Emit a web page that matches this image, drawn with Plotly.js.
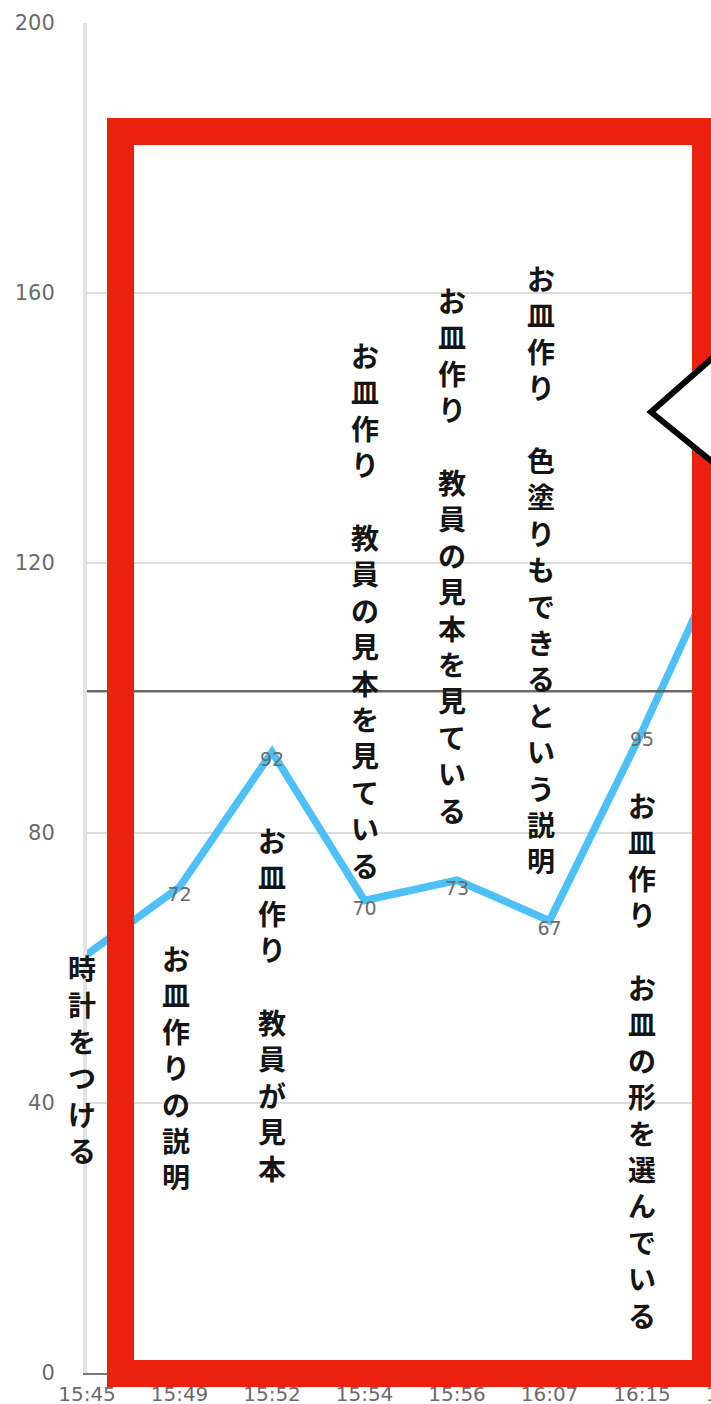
<!DOCTYPE html>
<html>
<head>
<meta charset="utf-8">
<script src="https://cdn.plot.ly/plotly-3.0.1.min.js"></script>
<style>
html,body{margin:0;padding:0;overflow:hidden;background:#fff;}
#chart{position:absolute;left:0;top:0;width:800px;height:1404px;}
</style>
</head>
<body>
<div id="chart"></div>
<script>
// ---- data ----
const times = ['15:45','15:49','15:52','15:54','15:56','16:07','16:15','16:18'];
const values = [62, 72, 92, 70, 73, 67, 95, 125];
const valueLabels = ['', '72', '92', '70', '73', '67', '95', ''];
const notes = [
  '時計をつける',
  'お皿作りの説明',
  'お皿作り　教員が見本',
  'お皿作り　教員の見本を見ている',
  'お皿作り　教員の見本を見ている',
  'お皿作り　色塗りもできるという説明',
  'お皿作り　お皿の形を選んでいる'
];
const yTicks = [0, 40, 80, 120, 160, 200];
const refLine = 101;

// ---- layout geometry (pixels) ----
const W = 800, H = 1404;
const L = 87, T = 23, B = 31, R = 0;
const PW = W - L - R, PH = H - T - B;
const step = 92.5;
const xMax = PW / step;
const px = p => (p - L) / PW;
const py = p => (H - B - p) / PH;

// note placement: [pixel center x offset, pixel top y]
const notePos = [[-5, 946], [-3.5, 936], [0, 818], [0.5, 333], [-5, 278], [-8.5, 256], [0, 783]];

const annotations = notes.map((s, i) => ({
  x: i, xref: 'x',
  y: py(notePos[i][1]), yref: 'paper',
  xshift: notePos[i][0],
  xanchor: 'center', yanchor: 'top',
  text: Array.from(s).join('<br>'),
  showarrow: false,
  align: 'center',
  font: {family: '"Noto Sans CJK JP", sans-serif', size: 28, color: '#151515', weight: 'bold'}
}));

const trace = {
  x: times, y: values,
  type: 'scatter', mode: 'lines+text',
  text: valueLabels,
  textposition: 'bottom center',
  textfont: {family: '"DejaVu Sans", sans-serif', size: 19, color: '#6a6a6a'},
  line: {color: '#4cc0f7', width: 7.5},
  cliponaxis: true,
  hoverinfo: 'skip'
};

const shapes = [
  {type: 'line', xref: 'paper', yref: 'y', x0: 0, x1: 1, y0: refLine, y1: refLine,
   line: {color: 'rgba(90,90,90,0.9)', width: 2.5}, layer: 'above'},
  {type: 'rect', xref: 'paper', yref: 'paper',
   x0: px(120.5), x1: px(705.5), y0: py(1373.5), y1: py(131.5),
   line: {color: '#ec200e', width: 27}, fillcolor: 'rgba(0,0,0,0)', layer: 'above'},
  {type: 'path', xref: 'paper', yref: 'paper',
   path: 'M ' + px(790) + ',' + py(290) + ' L ' + px(651) + ',' + py(412) + ' L ' + px(790) + ',' + py(525) + ' Z',
   fillcolor: '#ffffff', line: {color: '#000000', width: 6}, layer: 'above'},
  {type: 'line', xref: 'paper', yref: 'paper', x0: px(790), x1: px(790), y0: py(290), y1: py(525),
   line: {color: '#ffffff', width: 8}, layer: 'above'}
];

const layout = {
  width: W, height: H,
  margin: {l: L, r: R, t: T, b: B, pad: 0},
  paper_bgcolor: '#ffffff', plot_bgcolor: '#ffffff',
  showlegend: false,
  xaxis: {
    type: 'category', range: [0, xMax],
    showgrid: false, zeroline: false,
    showline: true, linecolor: '#777777', linewidth: 2,
    ticks: '', ticklabelstandoff: 2,
    tickfont: {family: '"DejaVu Sans", sans-serif', size: 20, color: '#6a6a6a'}
  },
  yaxis: {
    range: [0, 200], tickvals: yTicks,
    showgrid: true, gridcolor: '#dcdcdc', gridwidth: 2,
    zeroline: false,
    showline: true, linecolor: '#e2e2e2', linewidth: 4,
    ticks: '', ticklabelstandoff: 24,
    tickfont: {family: '"DejaVu Sans", sans-serif', size: 21, color: '#6a6a6a'}
  },
  annotations: annotations,
  shapes: shapes
};

Plotly.newPlot('chart', [trace], layout, {displayModeBar: false, staticPlot: true});
</script>
</body>
</html>
